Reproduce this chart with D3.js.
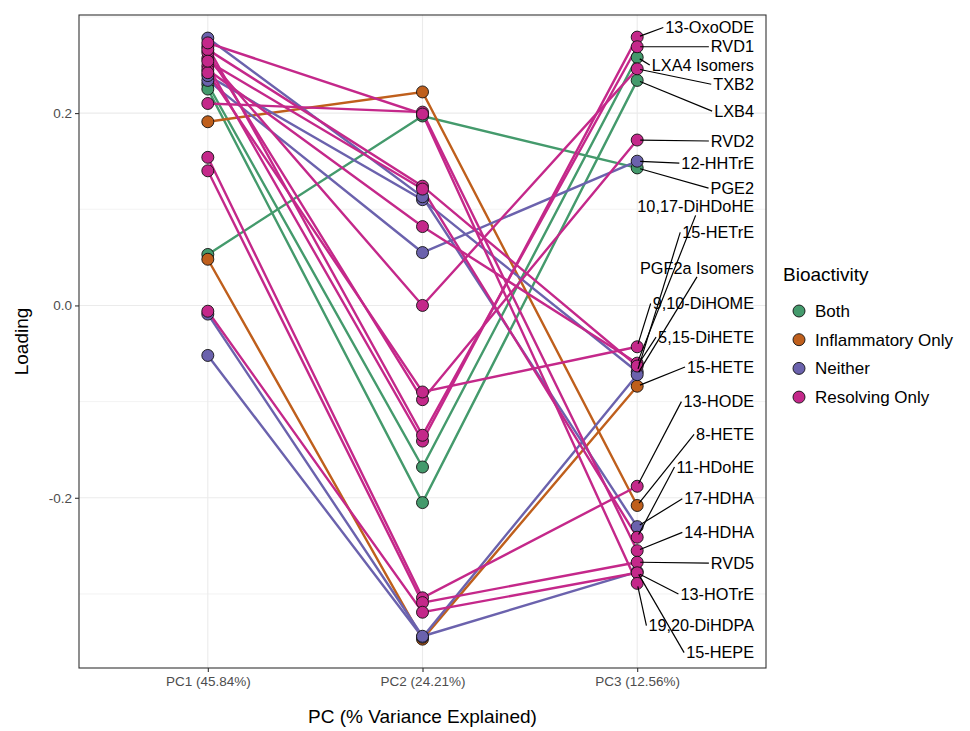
<!DOCTYPE html>
<html>
<head>
<meta charset="utf-8">
<script src="https://cdn.jsdelivr.net/npm/d3@7/dist/d3.min.js"></script>
<style>
  body { margin: 0; background: #fff; }
  svg text { font-family: "Liberation Sans", Arial, sans-serif; }
</style>
</head>
<body>
<div id="chart"></div>
<script>
// PC axis categories
const pcs = ["PC1 (45.84%)", "PC2 (24.21%)", "PC3 (12.56%)"];

// lipid mediators, bioactivity class and loadings on the three PCs
const lipids = ["13-OxoODE", "RVD1", "LXA4 Isomers", "TXB2", "LXB4", "RVD2", "12-HHTrE", "PGE2",
    "10,17-DiHDoHE", "15-HETrE", "PGF2a Isomers", "9,10-DiHOME", "5,15-DiHETE", "15-HETE",
    "13-HODE", "8-HETE", "11-HDoHE", "17-HDHA", "14-HDHA", "RVD5", "13-HOTrE", "19,20-DiHDPA", "15-HEPE"];
const bioactivity = ["Resolving Only", "Resolving Only", "Both", "Resolving Only", "Both", "Resolving Only",
    "Neither", "Both", "Resolving Only", "Neither", "Neither", "Resolving Only", "Resolving Only",
    "Inflammatory Only", "Resolving Only", "Inflammatory Only", "Resolving Only", "Neither",
    "Resolving Only", "Resolving Only", "Resolving Only", "Resolving Only", "Neither"];
const pc1 = [0.249, 0.269, 0.230, 0.257, 0.225, 0.263, 0.234, 0.053, 0.245, 0.239, -0.052, 0.242,
    0.266, 0.048, 0.154, 0.191, 0.254, 0.278, 0.210, 0.140, -0.006, 0.273, -0.009];
const pc2 = [-0.141, -0.135, -0.168, 0.000, -0.205, -0.098, 0.055, 0.197, 0.082, 0.110, -0.345, -0.090,
    0.124, -0.347, -0.304, 0.222, 0.121, 0.113, 0.201, -0.309, -0.319, 0.199, -0.344];
const pc3 = [0.279, 0.269, 0.258, 0.246, 0.234, 0.172, 0.150, 0.143, -0.060, -0.069, -0.072, -0.043,
    -0.063, -0.084, -0.188, -0.208, -0.241, -0.230, -0.255, -0.267, -0.278, -0.289, -0.277];
// where the repelled labels ended up (loading units)
const labelLoading = [0.289, 0.269, 0.250, 0.230, 0.202, 0.171, 0.148, 0.122, 0.103, 0.076, 0.039, 0.002,
    -0.033, -0.064, -0.100, -0.134, -0.168, -0.201, -0.236, -0.268, -0.300, -0.333, -0.361];

const groups = ["Both", "Inflammatory Only", "Neither", "Resolving Only"];
const groupColors = ["#449a6c", "#bf5f1c", "#6b62ad", "#c4288a"];

const yMajor = [-0.2, 0, 0.2];
const yMinor = [-0.3, -0.1, 0.1, 0.3];

const W = 970, H = 731;
const panel = { left: 79, right: 766, top: 15, bottom: 668 };

const svg = d3.select("#chart").append("svg")
    .attr("width", W)
    .attr("height", H);

const x = d3.scalePoint()
    .domain(pcs)
    .range([panel.left, panel.right])
    .padding(0.6);

const y = d3.scaleLinear()
    .domain([-0.377, 0.302])
    .range([panel.bottom, panel.top]);

const color = d3.scaleOrdinal().domain(groups).range(groupColors);

const data = lipids.map((name, i) => ({
    name,
    group: bioactivity[i],
    values: [pc1[i], pc2[i], pc3[i]],
    label: labelLoading[i]
}));
// draw in legend order so pink sits on top
const ordered = data.slice().sort((a, b) => groups.indexOf(a.group) - groups.indexOf(b.group));

// panel grid
const grid = svg.append("g");
grid.selectAll(".minor")
    .data(yMinor)
    .join("line")
    .attr("x1", panel.left).attr("x2", panel.right)
    .attr("y1", d => y(d)).attr("y2", d => y(d))
    .attr("stroke", "#ebebeb").attr("stroke-width", 0.6);
grid.selectAll(".major")
    .data(yMajor)
    .join("line")
    .attr("x1", panel.left).attr("x2", panel.right)
    .attr("y1", d => y(d)).attr("y2", d => y(d))
    .attr("stroke", "#ebebeb").attr("stroke-width", 1.1);
grid.selectAll(".vmajor")
    .data(pcs)
    .join("line")
    .attr("x1", d => x(d)).attr("x2", d => x(d))
    .attr("y1", panel.top).attr("y2", panel.bottom)
    .attr("stroke", "#ebebeb").attr("stroke-width", 1.1);

// lines
const line = d3.line()
    .x((d, i) => x(pcs[i]))
    .y(d => y(d));

svg.append("g")
    .selectAll("path")
    .data(ordered)
    .join("path")
    .attr("d", d => line(d.values))
    .attr("fill", "none")
    .attr("stroke", d => color(d.group))
    .attr("stroke-width", 2.4);

// points
const pts = ordered.flatMap(d => d.values.map((v, i) => ({ pc: pcs[i], v, group: d.group })));
svg.append("g")
    .selectAll("circle")
    .data(pts)
    .join("circle")
    .attr("cx", d => x(d.pc))
    .attr("cy", d => y(d.v))
    .attr("r", 6)
    .attr("fill", d => color(d.group))
    .attr("stroke", "#111")
    .attr("stroke-width", 0.9);

// repelled labels at PC3, segment goes to the nearest side middle of the label box
const labelRight = panel.right - 12;
const lab = svg.append("g");
const seg = lab.append("g");
const txt = lab.append("g");
data.forEach(d => {
    const px = x(pcs[2]), py = y(d.values[2]);
    const ly = y(d.label);
    const t = txt.append("text")
        .attr("x", labelRight)
        .attr("y", ly)
        .attr("dy", "0.35em")
        .attr("text-anchor", "end")
        .attr("font-size", 16.3)
        .attr("fill", "#000")
        .text(d.name);
    const w = t.node().getComputedTextLength();
    const x1 = labelRight - w - 2, x2 = labelRight + 2;
    const y1 = ly - 9, y2 = ly + 9;
    let ex, ey;
    if (px < x1 - 4) { ex = x1; ey = ly; }
    else if (px > x2) { ex = x2; ey = ly; }
    else if (py > y2) { ex = (x1 + x2) / 2; ey = y2; }
    else if (py < y1) { ex = (x1 + x2) / 2; ey = y1; }
    else return;
    const len = Math.hypot(ex - px, ey - py);
    const sx = px + (ex - px) / len * 3, sy = py + (ey - py) / len * 3;
    seg.append("line")
        .attr("x1", sx).attr("y1", sy)
        .attr("x2", ex).attr("y2", ey)
        .attr("stroke", "#000")
        .attr("stroke-width", 1.2);
});

// panel border
svg.append("rect")
    .attr("x", panel.left).attr("y", panel.top)
    .attr("width", panel.right - panel.left)
    .attr("height", panel.bottom - panel.top)
    .attr("fill", "none")
    .attr("stroke", "#333")
    .attr("stroke-width", 1.1);

// axes
const yAxis = svg.append("g")
    .attr("transform", `translate(${panel.left},0)`)
    .call(d3.axisLeft(y).tickValues(yMajor).tickSize(4).tickPadding(3)
        .tickFormat(d3.format(".1f")));
const xAxis = svg.append("g")
    .attr("transform", `translate(0,${panel.bottom})`)
    .call(d3.axisBottom(x).tickSize(4).tickPadding(4));
[yAxis, xAxis].forEach(a => {
    a.select(".domain").remove();
    a.selectAll(".tick line").attr("stroke", "#333").attr("stroke-width", 1.1);
    a.selectAll(".tick text").attr("fill", "#4d4d4d").attr("font-size", 13.5)
        .style("font-family", '"Liberation Sans", Arial, sans-serif');
});
yAxis.selectAll(".tick text").text(d => d3.format(".1f")(d).replace("−", "-"));

svg.append("text")
    .attr("x", (panel.left + panel.right) / 2)
    .attr("y", 723)
    .attr("text-anchor", "middle")
    .attr("font-size", 19)
    .text("PC (% Variance Explained)");

svg.append("text")
    .attr("transform", `translate(28,${(panel.top + panel.bottom) / 2}) rotate(-90)`)
    .attr("text-anchor", "middle")
    .attr("font-size", 19)
    .text("Loading");

// legend
const legend = svg.append("g").attr("transform", "translate(783,0)");
legend.append("text")
    .attr("x", 0).attr("y", 281)
    .attr("font-size", 19)
    .text("Bioactivity");
const keys = legend.selectAll(".key")
    .data(groups)
    .join("g")
    .attr("transform", (d, i) => `translate(0,${311 + i * 28.7})`);
keys.append("circle")
    .attr("cx", 16).attr("cy", 0).attr("r", 6)
    .attr("fill", d => color(d))
    .attr("stroke", "#111").attr("stroke-width", 0.9);
keys.append("text")
    .attr("x", 32).attr("y", 0).attr("dy", "0.35em")
    .attr("font-size", 17)
    .text(d => d);
</script>
</body>
</html>
